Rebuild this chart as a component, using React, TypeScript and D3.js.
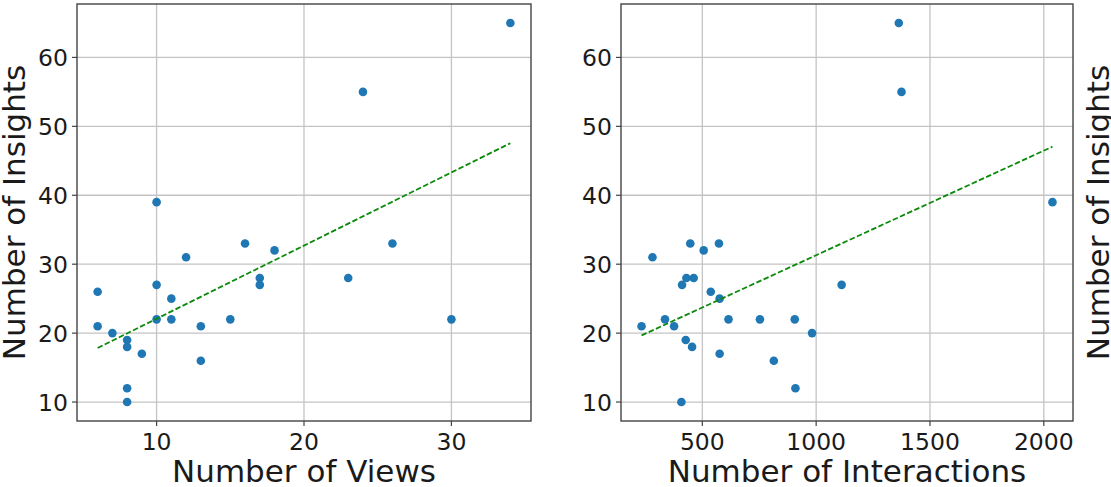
import React from "react";
import * as d3 from "d3";

// insights found per participant
const insights = [
  65, 55, 39, 33, 33, 32, 31, 28, 28, 27, 27, 26, 25,
  22, 22, 22, 22, 21, 21, 20, 19, 18, 17, 16, 12, 10,
];
// views created by the same participants (same order)
const views = [
  34, 24, 10, 16, 26, 18, 12, 17, 23, 17, 10, 6, 11,
  10, 11, 15, 30, 6, 13, 7, 8, 8, 9, 13, 8, 8,
];
// insights for the interaction panel, with interaction counts
const insightsB = [
  65, 55, 39, 33, 33, 32, 31, 28, 28, 27, 27, 26, 25,
  22, 22, 22, 22, 21, 21, 20, 19, 18, 17, 16, 12, 10,
];
const interactions = [
  1363, 1375, 2038, 447, 573, 506, 281, 430, 462, 411, 1112, 537, 576,
  336, 615, 753, 906, 233, 376, 982, 427, 455, 576, 814, 909, 408,
];

const viewTicks = [10, 20, 30];
const interactionTicks = [500, 1000, 1500, 2000];
const insightTicks = [10, 20, 30, 40, 50, 60];

const FONT = "DejaVu Sans, sans-serif";
const TOP = 4;
const BOTTOM = 421;

// matplotlib-style 5% padding around the data
const padded = (vals: number[]) => {
  const [lo, hi] = d3.extent(vals) as [number, number];
  const m = (hi - lo) * 0.05;
  return [lo - m, hi + m];
};

const fit = (xs: number[], ys: number[]) => {
  const mx = d3.mean(xs)!;
  const my = d3.mean(ys)!;
  const sxy = d3.sum(xs, (x, i) => (x - mx) * (ys[i] - my));
  const sxx = d3.sum(xs, (x) => (x - mx) ** 2);
  const slope = sxy / sxx;
  return (x: number) => my + slope * (x - mx);
};

type PanelProps = {
  xs: number[];
  ys: number[];
  left: number;
  right: number;
  xTicks: number[];
  xLabel: string;
  yLabelX: number;
};

const Panel = ({ xs, ys, left, right, xTicks, xLabel, yLabelX }: PanelProps) => {
  const x = d3.scaleLinear().domain(padded(xs)).range([left, right]);
  const y = d3.scaleLinear().domain(padded(ys)).range([BOTTOM, TOP]);
  const trend = fit(xs, ys);
  const [x0, x1] = d3.extent(xs) as [number, number];
  const line = d3
    .line<number>()
    .x((d) => x(d))
    .y((d) => y(trend(d)));

  return (
    <g>
      {xTicks.map((t) => (
        <line key={"gx" + t} x1={x(t)} x2={x(t)} y1={TOP} y2={BOTTOM}
          stroke="#c4c4c4" strokeWidth={1.3} />
      ))}
      {insightTicks.map((t) => (
        <line key={"gy" + t} x1={left} x2={right} y1={y(t)} y2={y(t)}
          stroke="#c4c4c4" strokeWidth={1.3} />
      ))}
      {xs.map((v, i) => (
        <circle key={i} cx={x(v)} cy={y(ys[i])} r={4.3} fill="#1f77b4" />
      ))}
      <path d={line([x0, x1]) || ""} fill="none" stroke="#0a8a0a"
        strokeWidth={1.8} strokeDasharray="5.5,2.4" />
      <rect x={left} y={TOP} width={right - left} height={BOTTOM - TOP}
        fill="none" stroke="#444" strokeWidth={1.4} />

      {xTicks.map((t) => (
        <g key={"tx" + t}>
          <line x1={x(t)} x2={x(t)} y1={BOTTOM} y2={BOTTOM + 5} stroke="#444" strokeWidth={1.2} />
          <text x={x(t)} y={450} textAnchor="middle" fontSize={23.5} fill="#1a1a1a">{t}</text>
        </g>
      ))}
      {insightTicks.map((t) => (
        <g key={"ty" + t}>
          <line x1={left - 5} x2={left} y1={y(t)} y2={y(t)} stroke="#444" strokeWidth={1.2} />
          <text x={left - 9} y={y(t)} dy="0.36em" textAnchor="end" fontSize={23.5} fill="#1a1a1a">{t}</text>
        </g>
      ))}

      <text x={(left + right) / 2} y={482} textAnchor="middle" fontSize={31} fill="#1a1a1a">
        {xLabel}
      </text>
      <text transform={`translate(${yLabelX},${(TOP + BOTTOM) / 2}) rotate(-90)`}
        textAnchor="middle" fontSize={31} fill="#1a1a1a">
        Number of Insights
      </text>
    </g>
  );
};

export default function App() {
  return (
    <div style={{ position: "absolute", left: 0, top: 0 }}>
      <svg width={1111} height={487} style={{ display: "block", fontFamily: FONT }}>
        <rect width={1111} height={487} fill="#fff" />
        <Panel xs={views} ys={insights} left={77} right={531}
          xTicks={viewTicks} xLabel="Number of Views" yLabelX={25} />
        <Panel xs={interactions} ys={insightsB} left={621} right={1073}
          xTicks={interactionTicks} xLabel="Number of Interactions" yLabelX={1109} />
      </svg>
    </div>
  );
}
